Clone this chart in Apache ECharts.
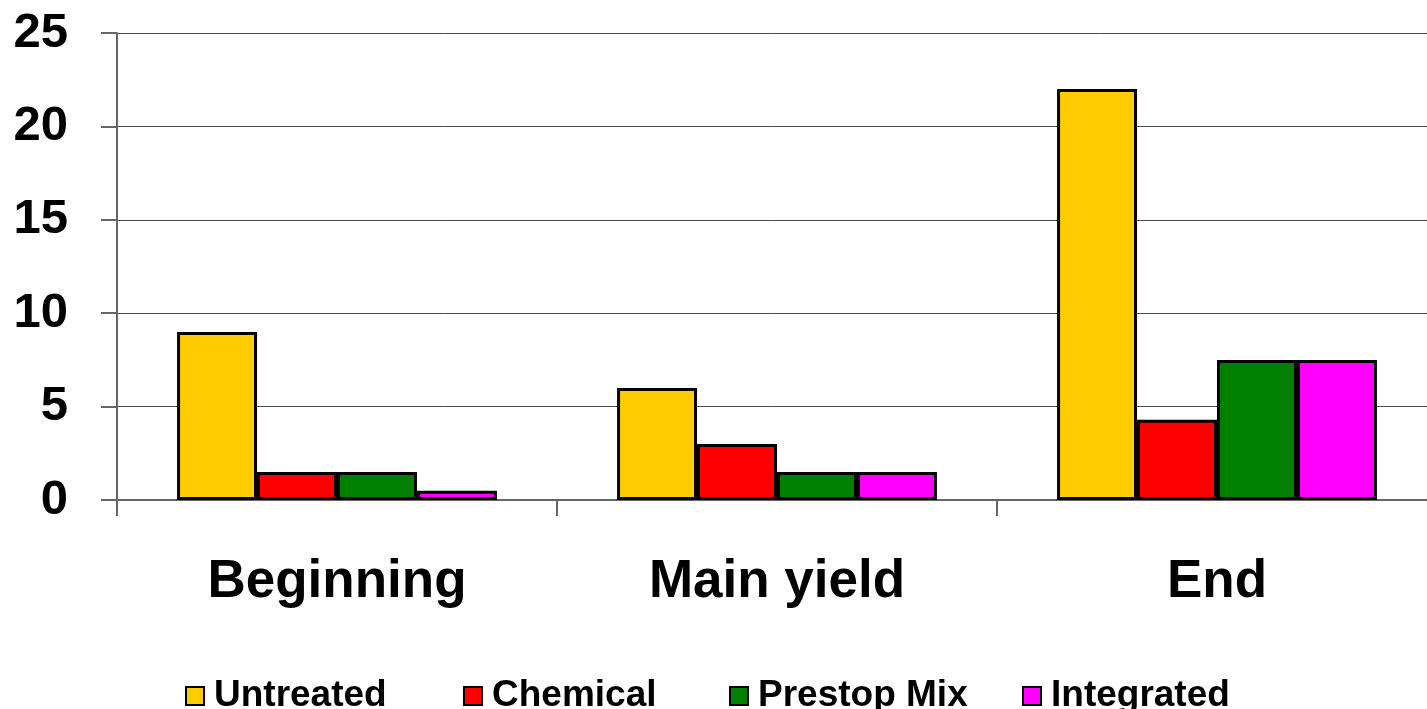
<!DOCTYPE html>
<html>
<head>
<meta charset="utf-8">
<title>Disease incidence by treatment</title>
<script src="https://cdn.jsdelivr.net/npm/echarts@6/dist/echarts.min.js"></script>
<style>
  html, body { margin: 0; padding: 0; background: #ffffff; }
  #chart { width: 1427px; height: 709px; }
</style>
</head>
<body>
<div id="chart"></div>
<script>
// Harvest periods along the x axis
const categories = ['Beginning', 'Main yield', 'End'];

// Treatment series values per period
const untreated = [9, 6, 22];
const chemical = [1.5, 3, 4.3];
const prestopMix = [1.5, 1.5, 7.5];
const integrated = [0.5, 1.5, 7.5];

// Value axis ticks
const yTicks = [0, 5, 10, 15, 20, 25];

const seriesDefs = [
  { name: 'Untreated', data: untreated, color: '#FFCC00' },
  { name: 'Chemical', data: chemical, color: '#FF0000' },
  { name: 'Prestop Mix', data: prestopMix, color: '#008000' },
  { name: 'Integrated', data: integrated, color: '#FF00FF' }
];

const font = '"Liberation Sans", Arial, sans-serif';
const legendLefts = [185, 463, 729, 1022];

const chart = echarts.init(document.getElementById('chart'), null, { renderer: 'canvas' });

chart.setOption({
  animation: false,
  backgroundColor: '#ffffff',
  // plot area runs slightly past the right edge of the canvas
  grid: { left: 117, top: 33, width: 1320, height: 467, outerBoundsMode: 'none' },
  legend: seriesDefs.map((s, i) => ({
    data: [s.name],
    left: legendLefts[i],
    top: 676,
    padding: 0,
    itemWidth: 18,
    itemHeight: 18,
    icon: 'rect',
    itemStyle: { borderColor: '#000000', borderWidth: 2 },
    textStyle: {
      fontFamily: font,
      fontSize: 37,
      fontWeight: 'bold',
      color: '#000000',
      lineHeight: 40,
      padding: [0, 0, 0, 5]
    }
  })),
  xAxis: {
    type: 'category',
    data: categories,
    axisLine: { show: true, lineStyle: { color: '#666666', width: 2 } },
    axisTick: { show: true, length: 16, lineStyle: { color: '#666666', width: 2 } },
    axisLabel: {
      margin: 56,
      fontFamily: font,
      fontSize: 53,
      fontWeight: 'bold',
      color: '#000000'
    },
    splitLine: { show: false }
  },
  yAxis: {
    type: 'value',
    min: yTicks[0],
    max: yTicks[yTicks.length - 1],
    interval: yTicks[1] - yTicks[0],
    axisLine: { show: true, lineStyle: { color: '#666666', width: 2 } },
    axisTick: { show: true, length: 16, lineStyle: { color: '#666666', width: 2 } },
    axisLabel: {
      margin: 49,
      fontFamily: font,
      fontSize: 49,
      fontWeight: 'bold',
      color: '#000000'
    },
    splitLine: { show: true, lineStyle: { color: '#4a4a4a', width: 1 } }
  },
  series: seriesDefs.map(s => ({
    name: s.name,
    type: 'bar',
    data: s.data,
    barGap: '0%',
    barCategoryGap: '27.3%',
    itemStyle: { color: s.color, borderColor: '#000000', borderWidth: 3 }
  }))
});
</script>
</body>
</html>
